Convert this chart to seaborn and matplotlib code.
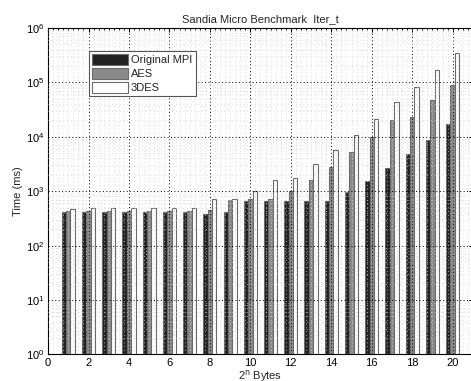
import numpy as np
import pandas as pd
import matplotlib
matplotlib.use("Agg")
import matplotlib.pyplot as plt
from matplotlib.ticker import MultipleLocator, LogLocator, NullFormatter
import seaborn as sns

# message size exponent n (2^n bytes)
sizes = list(range(1, 21))

original_mpi = [412, 412, 412, 412, 412, 412, 412, 378, 414, 655,
                655, 665, 665, 665, 955, 1540, 2650, 4800, 8900, 17000]
aes = [440, 440, 440, 440, 440, 440, 440, 450, 683, 705,
       705, 1030, 1610, 2830, 5300, 9900, 20000, 23000, 47000, 88000]
des3 = [480, 485, 485, 485, 490, 500, 500, 705, 730, 1030,
        1610, 1780, 3130, 5650, 10900, 21500, 43000, 84000, 170000, 340000]

series_names = ["Original MPI", "AES", "3DES"]

df = pd.DataFrame({
    "n": sizes * 3,
    "time": original_mpi + aes + des3,
    "method": [s for s in series_names for _ in sizes],
})

sns.set_style("white")
plt.rcParams["font.family"] = ["Liberation Sans", "DejaVu Sans"]

fig = plt.figure(figsize=(4.71, 3.81), dpi=100)
ax = fig.add_axes([0.102, 0.0696, 0.902, 0.857])

sns.barplot(data=df, x="n", y="time", hue="method", hue_order=series_names,
            palette=["#222222", "#8a8a8a", "#ffffff"], native_scale=True,
            width=0.65, gap=0, edgecolor="#6a6a6a", linewidth=0.8,
            saturation=1, ax=ax)
ax.set_yscale("log")

ax.set_xlim(0, 21)
ax.set_ylim(1, 1e6)
ax.xaxis.set_major_locator(MultipleLocator(2))
ax.xaxis.set_minor_locator(MultipleLocator(0.25))
ax.yaxis.set_major_locator(LogLocator(base=10, numticks=10))
ax.yaxis.set_minor_locator(LogLocator(base=10, subs=np.arange(2, 10), numticks=20))
ax.yaxis.set_minor_formatter(NullFormatter())

ax.set_axisbelow(False)
ax.grid(True, which="major", linestyle=(0, (1, 2.5)), color="black", linewidth=0.7)
ax.grid(True, which="minor", linestyle=(0, (1, 3.5)), color="#cfcfcf", linewidth=0.6)

ax.tick_params(axis="both", which="both", direction="in", top=True, right=True,
               labelsize=8, colors="black", pad=2.5)
ax.tick_params(which="major", length=3)
ax.tick_params(which="minor", length=1.5)
for sp in ax.spines.values():
    sp.set_color("black")
    sp.set_linewidth(0.8)

ax.set_title("Sandia Micro Benchmark  Iter_t", fontsize=8, pad=4)
ax.set_xlabel("2$^{\\rm n}$ Bytes", fontsize=8, labelpad=0)
ax.set_ylabel("Time (ms)", fontsize=8, labelpad=2)

leg = ax.legend(loc="upper left", bbox_to_anchor=(0.096, 0.93), fontsize=8,
                handlelength=3.2, handleheight=1.1, handletextpad=0.3,
                labelspacing=0.25, borderpad=0.3, fancybox=False, framealpha=1,
                edgecolor="#555555", borderaxespad=0)
leg.get_frame().set_linewidth(0.8)

fig.savefig("out.png", dpi=100)
